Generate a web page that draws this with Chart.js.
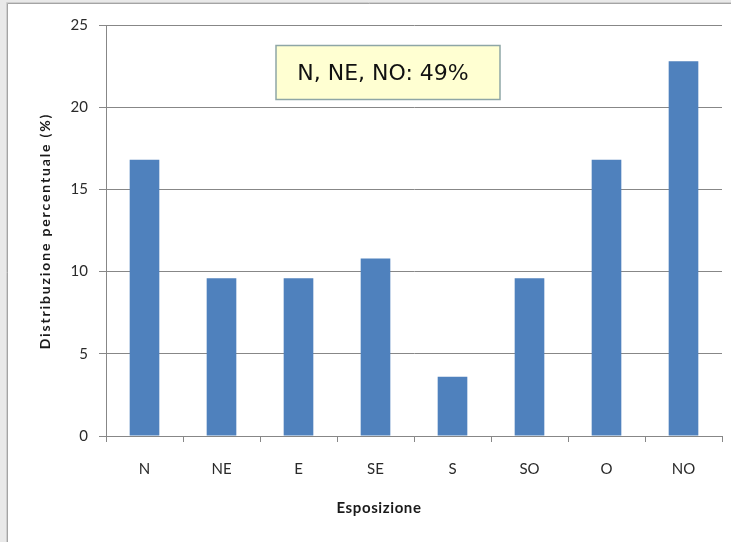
<!DOCTYPE html>
<html>
<head>
<meta charset="utf-8">
<script src="https://cdn.jsdelivr.net/npm/chart.js@4"></script>
<style>
html,body{margin:0;padding:0;background:#e9e9e9;}
#wrap{position:absolute;left:0;top:0;width:731px;height:542px;}
</style>
</head>
<body>
<div id="wrap"><canvas id="c" width="731" height="542"></canvas></div>
<script>
const categories = ['N', 'NE', 'E', 'SE', 'S', 'SO', 'O', 'NO'];
const values = [16.8, 9.6, 9.6, 10.8, 3.6, 9.6, 16.8, 22.8];
const yTicks = [0, 5, 10, 15, 20, 25];
const xTitle = 'Esposizione';
const yTitle = 'Distribuzione percentuale (%)';
const noteText = 'N, NE, NO: 49%';

const gridColor = '#878787';
const labelFont = "'Lato', 'Liberation Sans', sans-serif";

const framePlugin = {
  id: 'frame',
  beforeDraw(chart) {
    const ctx = chart.ctx;
    ctx.save();
    ctx.fillStyle = '#e9e9e9';
    ctx.fillRect(0, 0, 731, 542);
    ctx.fillStyle = '#ffffff';
    ctx.fillRect(8, 4, 723, 538);
    ctx.strokeStyle = '#a4a4a4';
    ctx.lineWidth = 1;
    ctx.beginPath();
    ctx.moveTo(7.5, 542); ctx.lineTo(7.5, 3.5); ctx.lineTo(731, 3.5);
    ctx.stroke();
    ctx.strokeStyle = '#cfcfcf';
    ctx.beginPath();
    ctx.moveTo(6.5, 542); ctx.lineTo(6.5, 2.5); ctx.lineTo(731, 2.5);
    ctx.stroke();
    ctx.restore();
  },
  afterDraw(chart) {
    const ctx = chart.ctx;
    const area = chart.chartArea;
    ctx.save();
    // axis titles
    ctx.fillStyle = '#1a1a1a';
    ctx.textAlign = 'center';
    ctx.textBaseline = 'alphabetic';
    ctx.font = "bold 15px " + labelFont;
    ctx.letterSpacing = '0.6px';
    ctx.fillText(xTitle, 379, 513);
    ctx.save();
    ctx.translate(50, 231);
    ctx.rotate(-Math.PI / 2);
    ctx.font = "bold 14px " + labelFont;
    ctx.letterSpacing = '1.85px';
    ctx.fillText(yTitle, 0, 0);
    ctx.restore();
    ctx.letterSpacing = '0px';
    // note box
    ctx.fillStyle = '#ffffd2';
    ctx.fillRect(276, 45.5, 224, 54);
    ctx.strokeStyle = '#8ea6a6';
    ctx.lineWidth = 1.5;
    ctx.strokeRect(276, 45.5, 224, 54);
    ctx.fillStyle = '#111111';
    ctx.textBaseline = 'middle';
    ctx.font = "22px 'DejaVu Sans', sans-serif";
    ctx.fillText(noteText, 383, 74);
    ctx.restore();
  }
};

new Chart(document.getElementById('c'), {
  type: 'bar',
  data: {
    labels: categories,
    datasets: [{
      data: values,
      backgroundColor: '#4f81bd',
      borderWidth: 0,
      categoryPercentage: 1,
      barPercentage: 0.385
    }]
  },
  options: {
    responsive: false,
    animation: false,
    devicePixelRatio: 1,
    layout: { padding: { left: 0, right: 9, top: 25, bottom: 0 } },
    plugins: { legend: { display: false }, tooltip: { enabled: false } },
    scales: {
      x: {
        afterFit(s) { s.height = 106; },
        grid: { display: true, drawOnChartArea: false, drawTicks: true, tickLength: 6, color: gridColor, offset: true },
        border: { display: true, color: gridColor, width: 1 },
        ticks: { color: '#2a2a2a', font: { family: labelFont, size: 15 }, padding: 18, maxRotation: 0 }
      },
      y: {
        min: 0, max: 25,
        afterFit(s) { s.width = 106; },
        afterBuildTicks(s) { s.ticks = yTicks.map(v => ({ value: v })); },
        grid: { color: gridColor, tickLength: 7, drawTicks: true },
        border: { display: true, color: gridColor, width: 1 },
        ticks: { color: '#2a2a2a', font: { family: labelFont, size: 15 }, padding: 11 }
      }
    }
  },
  plugins: [framePlugin]
});
</script>
</body>
</html>
